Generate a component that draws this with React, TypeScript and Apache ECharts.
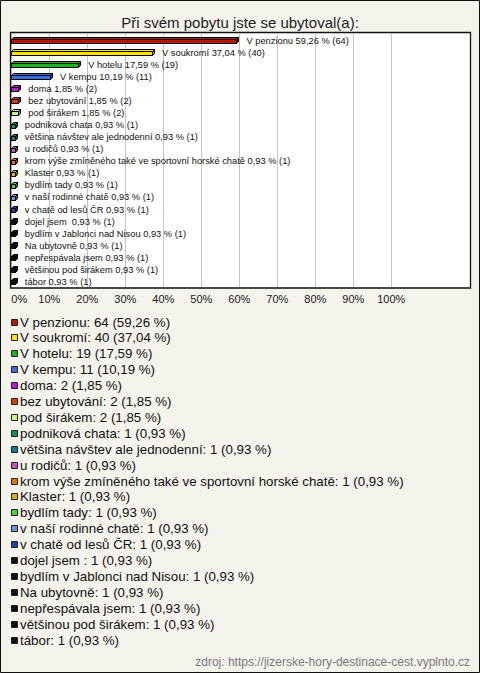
import React, { useEffect, useRef } from "react";
import * as echarts from "echarts";

const titleText = "Při svém pobytu jste se ubytoval(a):";
const sourceText = "zdroj: https://jizerske-hory-destinace-cest.vyplnto.cz";

const categories = [
  "V penzionu",
  "V soukromí",
  "V hotelu",
  "V kempu",
  "doma",
  "bez ubytování",
  "pod širákem",
  "podniková chata",
  "většina návštev ale jednodenní",
  "u rodičů",
  "krom výše zmíněného také ve sportovní horské chatě",
  "Klaster",
  "bydlím tady",
  "v naší rodinné chatě",
  "v chatě od lesů ČR",
  "dojel jsem ",
  "bydlím v Jablonci nad Nisou",
  "Na ubytovně",
  "nepřespávala jsem",
  "většinou pod širákem",
  "tábor",
];

const counts = [64, 40, 19, 11, 2, 2, 2, 1, 1, 1, 1, 1, 1, 1, 1, 1, 1, 1, 1, 1, 1];

const percents = [
  59.26, 37.04, 17.59, 10.19, 1.85, 1.85, 1.85, 0.93, 0.93, 0.93, 0.93, 0.93,
  0.93, 0.93, 0.93, 0.93, 0.93, 0.93, 0.93, 0.93, 0.93,
];

const palette = [
  "#b8180c",
  "#ffe400",
  "#18b418",
  "#3e6fe0",
  "#c418d4",
  "#e03a0a",
  "#c8f58c",
  "#168e5e",
  "#1a7a8c",
  "#c058c0",
  "#e0780e",
  "#e0b00e",
  "#3ed83e",
  "#6f92e2",
  "#2540b0",
  "#111111",
  "#111111",
  "#111111",
  "#111111",
  "#111111",
  "#111111",
];

const fmt = (p: number) => p.toFixed(2).replace(".", ",");

function darken(hex: string, f: number) {
  const n = parseInt(hex.slice(1), 16);
  const r = Math.round(((n >> 16) & 255) * f);
  const g = Math.round(((n >> 8) & 255) * f);
  const b = Math.round((n & 255) * f);
  return `rgb(${r},${g},${b})`;
}

export default function App() {
  const ref = useRef<HTMLDivElement>(null);

  useEffect(() => {
    document.body.style.margin = "0";
    if (!ref.current) return;
    const chart = echarts.init(ref.current, undefined, { renderer: "svg" });

    const legendElems: any[] = [];
    categories.forEach((c, i) => {
      const cy = 322 + i * 15.9;
      legendElems.push({
        type: "rect",
        shape: { x: 11.5, y: Math.round(cy - 3.5) + 0.5, width: 6, height: 6 },
        style: { fill: palette[i], stroke: "#222", lineWidth: 1 },
        z: 10,
      });
      legendElems.push({
        type: "text",
        x: 20,
        y: cy,
        style: {
          text: `${c}: ${counts[i]} (${fmt(percents[i])} %)`,
          fontSize: 13.3,
          fontFamily: "Liberation Sans",
          fill: "#111",
          verticalAlign: "middle",
          align: "left",
        },
        z: 10,
      });
    });

    const option: any = {
      animation: false,
      backgroundColor: "#f4f3ec",
      title: {
        text: titleText,
        left: "center",
        top: 10,
        textStyle: {
          fontSize: 15,
          fontWeight: "normal",
          fontFamily: "Liberation Sans",
          color: "#222",
        },
      },
      grid: { left: 11.3, right: 88.7, top: 34, bottom: 385.5 },
      xAxis: {
        type: "value",
        min: 0,
        max: 100,
        interval: 10,
        axisLine: { show: false },
        axisTick: { show: false },
        splitLine: { show: true, lineStyle: { color: "#c4c4c4", width: 1 } },
        axisLabel: {
          formatter: "{value}%",
          fontSize: 11,
          fontFamily: "Liberation Sans",
          color: "#222",
          margin: 6,
          alignMinLabel: "left",
          alignMaxLabel: "center",
        },
      },
      yAxis: {
        type: "category",
        data: categories,
        inverse: true,
        show: false,
      },
      graphic: [
        {
          type: "rect",
          shape: { x: 0.5, y: 0.5, width: 479, height: 672 },
          style: { fill: "none", stroke: "#111", lineWidth: 1 },
          z: 100,
        },
        {
          type: "rect",
          shape: { x: 10.5, y: 32.5, width: 460, height: 255.5 },
          style: { fill: "#ffffff", stroke: "none" },
          z: -10,
        },
        {
          type: "rect",
          shape: { x: 10.5, y: 32.5, width: 460, height: 255.5 },
          style: { fill: "none", stroke: "#111", lineWidth: 1.3 },
          z: 100,
        },
        ...legendElems,
        {
          type: "text",
          x: 470,
          y: 662,
          style: {
            text: sourceText,
            fontSize: 12,
            fontFamily: "Liberation Sans",
            fill: "#7a7a7a",
            align: "right",
            verticalAlign: "middle",
          },
          z: 10,
        },
      ],
      series: [
        {
          type: "custom",
          encode: { x: 0, y: 1 },
          data: percents.map((p, i) => [p, i]),
          renderItem: (params: any, api: any) => {
            const i = params.dataIndex;
            const v = api.value(0);
            const idx = api.value(1);
            const s = api.coord([0, idx]);
            const e = api.coord([v, idx]);
            const h = 4;
            const d = 2;
            const y = Math.round(s[1] - 1) + 0.5;
            const x0 = Math.round(s[0]) + 0.5;
            const x1 = Math.max(x0 + 2, Math.round(e[0]) + 0.5);
            const col = palette[i];
            return {
              type: "group",
              children: [
                {
                  type: "polygon",
                  shape: { points: [[x0, y], [x0 + d, y - d], [x1 + d, y - d], [x1, y]] },
                  style: { fill: col, stroke: "#000", lineWidth: 1 },
                },
                {
                  type: "polygon",
                  shape: { points: [[x1, y], [x1 + d, y - d], [x1 + d, y - d + h], [x1, y + h]] },
                  style: { fill: darken(col, 0.6), stroke: "#000", lineWidth: 1 },
                },
                {
                  type: "rect",
                  shape: { x: x0, y: y, width: x1 - x0, height: h },
                  style: { fill: col, stroke: "#000", lineWidth: 1 },
                },
                {
                  type: "text",
                  x: e[0] + 10,
                  y: s[1] + 0.5,
                  style: {
                    text: `${categories[i]} ${fmt(percents[i])} % (${counts[i]})`,
                    fontSize: 9.3,
                    fontFamily: "Liberation Sans",
                    fill: "#111",
                    verticalAlign: "middle",
                    align: "left",
                  },
                },
              ],
            };
          },
        },
      ],
    };

    chart.setOption(option);
    return () => chart.dispose();
  }, []);

  return <div ref={ref} style={{ width: 480, height: 673 }} />;
}
